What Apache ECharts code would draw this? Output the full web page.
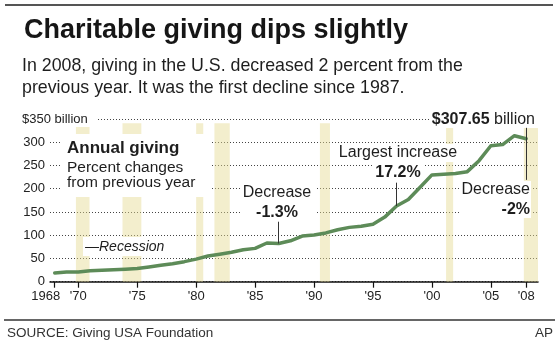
<!DOCTYPE html>
<html><head><meta charset="utf-8">
<script src="https://cdn.jsdelivr.net/npm/echarts@6/dist/echarts.min.js"></script>
<style>html,body{margin:0;padding:0;background:#fff;}#c{width:560px;height:348px;}</style>
</head><body><div id="c"></div>
<script>
// ---- data ----
const years = [1968,1969,1970,1971,1972,1973,1974,1975,1976,1977,1978,1979,1980,1981,1982,1983,1984,1985,1986,1987,1988,1989,1990,1991,1992,1993,1994,1995,1996,1997,1998,1999,2000,2001,2002,2003,2004,2005,2006,2007,2008];
const giving = [18.85,20.66,21.04,23.44,24.44,25.59,26.88,28.56,31.85,35.21,38.57,43.11,48.63,55.28,59.11,63.21,68.58,71.69,83.25,82.20,88.04,98.30,100.52,104.92,111.79,116.86,119.22,123.68,138.96,162.85,176.82,203.07,229.71,231.26,232.65,236.73,260.29,292.42,294.91,314.07,307.65];
const recessions = [[1969.8,1970.95],[1973.75,1975.35],[1980.0,1980.6],[1981.55,1982.85],[1990.5,1991.35],[2001.2,2001.8],[2007.8,2009.0]];
const tickYears = [1968,1970,1975,1980,1985,1990,1995,2000,2005,2008];
const tickLabels = ['1968',"'70","'75","'80","'85","'90","'95","'00","'05","'08"];
const yTicks = [0,50,100,150,200,250,300,350];
const pointers = [[1987,82.20,129],[1997,162.85,213],[2008,331,219]];

const FF = "'Liberation Sans', Arial, Helvetica, sans-serif";
const chart = echarts.init(document.getElementById('c'), null, {renderer:'canvas'});

function txt(text, x, y, size, opts) {
  opts = opts || {};
  return {type:'text', z:110, silent:true, style:Object.assign({
    text:text, x:x, y:y, fill:'#1e1e1e',
    font:(opts.weight||'normal')+' '+size+'px '+FF,
    align:opts.align||'left', verticalAlign:'middle'
  }, opts.style||{})};
}
function wrect(x,y,w,h){ return {type:'rect', z:3, silent:true, shape:{x:x,y:y,width:w,height:h}, style:{fill:'#fff'}}; }

const option = {
  animation:false,
  backgroundColor:'#fff',
  grid:{left:50, right:22, top:119, bottom:66.3},
  xAxis:{
    type:'value', min:1967.6, max:2009.0,
    axisLine:{lineStyle:{color:'#111', width:1.5}},
    axisTick:{customValues:tickYears, length:6, lineStyle:{color:'#111', width:1.2}},
    axisLabel:{customValues:tickYears, margin:8, fontSize:13, fontFamily:FF, color:'#222',
      formatter:function(v){ const i = tickYears.indexOf(v); const s = tickLabels[i]; return i===0 ? '{m|'+s+'}' : s; },
      rich:{m:{padding:[0,18,0,0], fontSize:13, fontFamily:FF, color:'#222'}}},
    splitLine:{show:false}
  },
  yAxis:{
    type:'value', min:0, max:350, interval:50,
    axisLine:{show:false}, axisTick:{show:false},
    axisLabel:{margin:5, fontSize:13, fontFamily:FF, color:'#222',
      formatter:function(v){ return v===350 ? '' : String(v); }},
    splitLine:{lineStyle:{color:'#444', width:1, type:[1,2]}}
  },
  series:[{
    type:'line', data:years.map((y,i)=>[y,giving[i]]), symbol:'none', silent:true,
    lineStyle:{color:'#5d8b58', width:3.5, join:'round', cap:'round'},
    z:5,
    markArea:{silent:true, z:1, itemStyle:{color:'rgba(228,218,145,0.45)'},
      data:recessions.map(r=>[{xAxis:r[0], yAxis:0},{xAxis:r[1], yAxis:341}])},
    markLine:{silent:true, z:6, symbol:'none', animation:false, label:{show:false},
      lineStyle:{color:'#333', width:1, type:'solid'},
      data:pointers.map(p=>[{coord:[p[0],p[1]]},{coord:[p[0],p[2]]}])}
  }],
  graphic:[
    {type:'line', z:100, silent:true, shape:{x1:5,y1:5,x2:553,y2:5}, style:{stroke:'#555', lineWidth:2}},
    txt('Charitable giving dips slightly', 24, 30.5, 27, {weight:'bold', style:{fill:'#161616'}}),
    txt('In 2008, giving in the U.S. decreased 2 percent from the', 22, 65.8, 17.8),
    txt('previous year. It was the first decline since 1987.', 22, 88, 17.8),
    // $350 billion
    wrect(20,111,76,16),
    txt('$350 billion', 22, 119.5, 13, {style:{fill:'#222'}}),
    // legend box
    wrect(60,134,150,63),
    txt('Annual giving', 67, 148.5, 17, {weight:'bold'}),
    txt('Percent changes', 67, 167.5, 15.5),
    txt('from previous year', 67, 182.5, 15.5),
    // recession key
    wrect(83,237,82,19),
    txt('\u2014Recession', 85, 246.8, 14, {style:{font:'italic 14px '+FF}}),
    // 1987
    wrect(240,183,75,37),
    txt('Decrease', 277, 193, 16, {align:'center'}),
    txt('-1.3%', 277, 212.5, 16, {weight:'bold', align:'center'}),
    // 1997
    wrect(336,144,124,18),
    wrect(372,162,52,20),
    txt('Largest increase', 398, 153, 16, {align:'center'}),
    txt('17.2%', 398, 173, 16, {weight:'bold', align:'center'}),
    // 2008
    wrect(430,110,110,18),
    {type:'text', z:110, silent:true, style:{text:'{b|$307.65} billion', x:535, y:120, align:'right', verticalAlign:'middle',
      font:'16px '+FF, fill:'#1e1e1e', rich:{b:{font:'bold 16px '+FF, fill:'#1e1e1e'}}}},
    wrect(460,181,71,37),
    txt('Decrease', 530, 190, 16, {align:'right'}),
    txt('-2%', 530, 209.5, 16, {weight:'bold', align:'right'}),
    // footer
    {type:'line', z:100, silent:true, shape:{x1:4,y1:320,x2:555,y2:320}, style:{stroke:'#666', lineWidth:2}},
    txt('SOURCE: Giving USA Foundation', 7, 333, 13.5, {style:{fill:'#333'}}),
    txt('AP', 553, 333, 13.5, {align:'right', style:{fill:'#333'}})
  ]
};
chart.setOption(option);
</script>
</body></html>
